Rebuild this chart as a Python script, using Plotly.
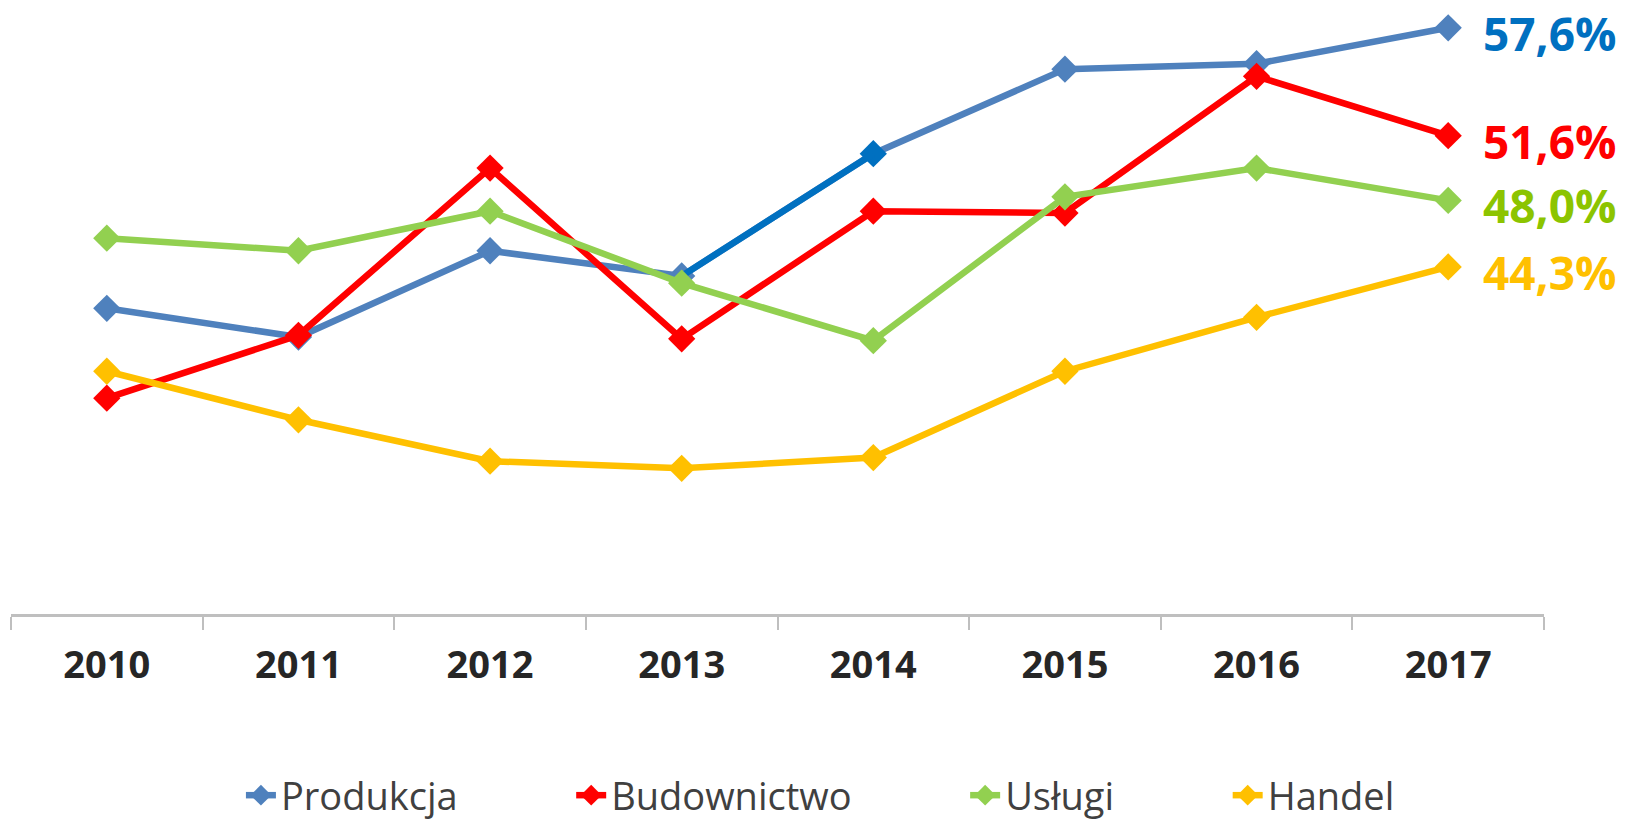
import plotly.graph_objects as go

years = ["2010", "2011", "2012", "2013", "2014", "2015", "2016", "2017"]
produkcja = [42.0, 40.4, 45.2, 43.8, 50.6, 55.3, 55.6, 57.6]
budownictwo = [37.0, 40.5, 49.8, 40.3, 47.4, 47.3, 54.9, 51.6]
uslugi = [45.9, 45.2, 47.4, 43.4, 40.2, 48.2, 49.8, 48.0]
handel = [38.5, 35.8, 33.5, 33.1, 33.7, 38.5, 41.5, 44.3]

series = [
    ("Produkcja", produkcja, "#4F81BD", "#0070C0"),
    ("Budownictwo", budownictwo, "#FF0000", "#FF0000"),
    ("Usługi", uslugi, "#92D050", "#8CC400"),
    ("Handel", handel, "#FFC000", "#FFC000"),
]

PAD = "\u00a0" * 11
fig = go.Figure()

for i, (name, vals, col, lblcol) in enumerate(series):
    mcolors = [col] * len(vals)
    if name == "Produkcja":
        mcolors[4] = "#0070C0"
    fig.add_trace(go.Scatter(
        x=years, y=vals, name=name + (PAD if i < len(series) - 1 else ""),
        mode="lines+markers",
        line=dict(color=col, width=6.5),
        marker=dict(symbol="diamond", size=21, color=mcolors, line=dict(width=0)),
        cliponaxis=False,
    ))
    if name == "Produkcja":
        fig.add_trace(go.Scatter(
            x=years[3:5], y=vals[3:5], mode="lines", showlegend=False,
            line=dict(color="#0070C0", width=6.5), hoverinfo="skip",
        ))
    fig.add_annotation(
        x=len(years) - 1, y=vals[-1], xref="x", yref="y",
        text="<b>" + f"{vals[-1]:.1f}".replace(".", ",") + "%</b>",
        showarrow=False, xanchor="left", yanchor="middle", xshift=33, yshift=-5,
        font=dict(family="Open Sans", size=46, color=lblcol),
    )

fig.update_layout(
    width=1633, height=822,
    margin=dict(l=3, r=97, t=0, b=216, autoexpand=False),
    paper_bgcolor="white", plot_bgcolor="white",
    showlegend=True,
    legend=dict(
        orientation="h", xref="paper", x=0.528, xanchor="center",
        yref="container", y=0.042, yanchor="middle",
        font=dict(family="Open Sans", size=38, color="#404040"),
        bgcolor="rgba(0,0,0,0)",
    ),
)
fig.update_xaxes(
    type="category", range=[-0.5, 7.5],
    showline=True, linecolor="#BFBFBF", linewidth=2.5,
    ticks="outside", tickson="boundaries", ticklen=13, tickwidth=2, tickcolor="#BFBFBF",
    showgrid=False, zeroline=False, tickangle=0,
    tickfont=dict(family="Open Sans", size=38, color="#262626", weight="bold"),
    ticklabelstandoff=16,
)
fig.update_yaxes(
    range=[25, 58.7], showgrid=False, zeroline=False,
    showline=False, showticklabels=False, ticks="",
)

fig.write_html("out.html")
